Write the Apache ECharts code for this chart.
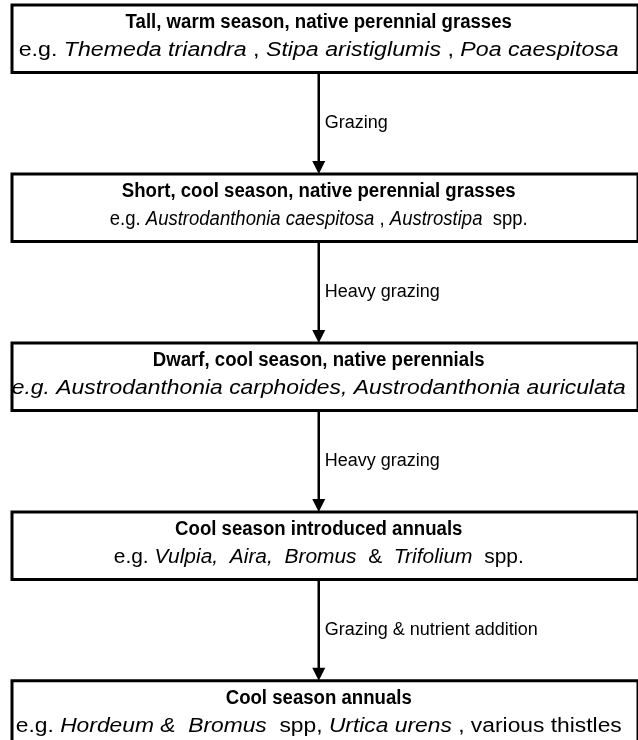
<!DOCTYPE html>
<html>
<head>
<meta charset="utf-8">
<script src="https://cdn.jsdelivr.net/npm/echarts@6/dist/echarts.min.js"></script>
<style>
    html, body { margin: 0; padding: 0; background: #fff; }
    #chart { width: 638px; height: 740px; }
</style>
</head>
<body>
<div id="chart"></div>
<script>
// states, top to bottom
const stages = [
    'Tall, warm season, native perennial grasses',
    'Short, cool season, native perennial grasses',
    'Dwarf, cool season, native perennials',
    'Cool season introduced annuals',
    'Cool season annuals',
]

// example species, _..._ is italic
const examples = [
    'e.g. _Themeda triandra_ , _Stipa aristiglumis_ , _Poa caespitosa_',
    'e.g. _Austrodanthonia caespitosa_ , _Austrostipa_  spp.',
    '_e.g. Austrodanthonia carphoides, Austrodanthonia auriculata_',
    'e.g. _Vulpia,  Aira,  Bromus_  &  _Trifolium_  spp.',
    'e.g. _Hordeum &  Bromus_  spp, _Urtica urens_ , various thistles',
]

// what drives each step down
const transitions = [
    'Grazing',
    'Heavy grazing',
    'Heavy grazing',
    'Grazing & nutrient addition',
]

// how wide each example line is set in the picture (px)
const exampleWidths = [600, 418, 614, 410, 606]

const FONT = '"Liberation Sans", Arial, sans-serif'
const BOX = 0.4    // share of a step taken by the box
const MID = 0.49   // x of the arrow and the text

const parts = (s) => s.split('_').map((text, k) => ({ text, italic: k % 2 === 1 })).filter(p => p.text)

const toRich = (s) => parts(s).map(p => '{' + (p.italic ? 'i' : 'n') + '|' + p.text + '}').join('')

const ctx = document.createElement('canvas').getContext('2d')
const measure = (s) => parts(s).reduce((w, p) => {
    ctx.font = (p.italic ? 'italic ' : '') + '20px ' + FONT
    return w + ctx.measureText(p.text).width
}, 0)

const chart = echarts.init(document.getElementById('chart'))

const renderItem = (params, api) => {
    const i = api.value(1)
    const tl = api.coord([0, i])
    const br = api.coord([1, i + BOX])
    const c = api.coord([api.value(0), i])
    const h = br[1] - tl[1]
    const children = [
        {
            type: 'rect',
            shape: { x: tl[0], y: tl[1], width: br[0] - tl[0], height: h },
            style: { fill: '#fff', stroke: '#000', lineWidth: 3 },
        },
        {
            type: 'text',
            x: c[0],
            y: tl[1] + h * 0.26,
            scaleX: 0.93,
            style: {
                text: stages[i], x: 0, y: 0,
                align: 'center', verticalAlign: 'middle',
                font: 'bold 20px ' + FONT, fill: '#000',
            },
        },
        {
            type: 'text',
            x: c[0],
            y: tl[1] + h * 0.67,
            scaleX: exampleWidths[i] / measure(examples[i]),
            style: {
                text: toRich(examples[i]), x: 0, y: 0,
                align: 'center', verticalAlign: 'middle',
                fill: '#000',
                rich: {
                    n: { font: '20px ' + FONT, fill: '#000' },
                    i: { font: 'italic 20px ' + FONT, fill: '#000' },
                },
            },
        },
    ]
    if (i < transitions.length) {
        const next = api.coord([api.value(0), i + 1])
        const head = 13
        children.push(
            {
                type: 'line',
                shape: { x1: c[0], y1: br[1], x2: c[0], y2: next[1] - head + 1 },
                style: { stroke: '#000', lineWidth: 2.5 },
            },
            {
                type: 'polygon',
                shape: { points: [[c[0] - 6.5, next[1] - head], [c[0] + 6.5, next[1] - head], [c[0], next[1]]] },
                style: { fill: '#000' },
            },
            {
                type: 'text',
                style: {
                    text: transitions[i], x: c[0] + 6, y: (br[1] + next[1]) / 2,
                    align: 'left', verticalAlign: 'middle',
                    font: '18px ' + FONT, fill: '#000',
                },
            }
        )
    }
    return { type: 'group', children }
}

chart.setOption({
    animation: false,
    grid: { left: 12, width: 633, top: 5, bottom: 0 },
    xAxis: { type: 'value', min: 0, max: 1, show: false },
    yAxis: { type: 'value', min: 0, max: 4.35, inverse: true, show: false },
    series: [{
        type: 'custom',
        silent: true,
        clip: false,
        renderItem,
        data: stages.map((name, i) => ({ name, value: [MID, i] })),
    }],
})
</script>
</body>
</html>
